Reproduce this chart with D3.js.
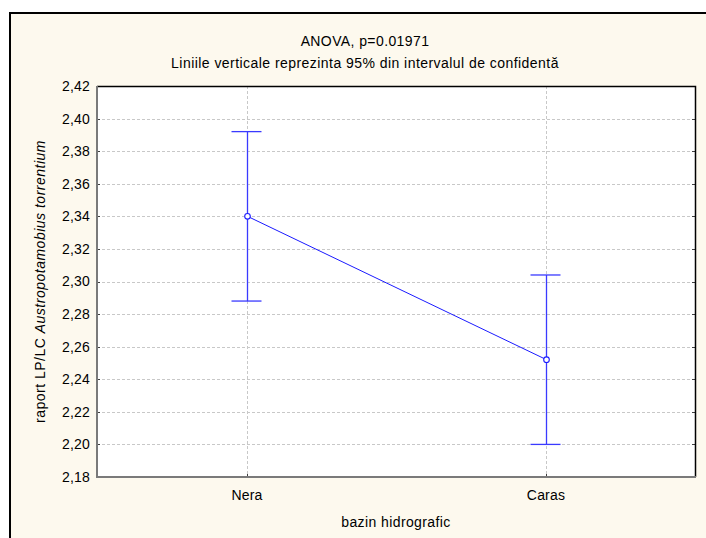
<!DOCTYPE html>
<html>
<head>
<meta charset="utf-8">
<script src="https://cdn.jsdelivr.net/npm/d3@7"></script>
<style>
  html, body { margin: 0; padding: 0; background: #ffffff; }
  svg { display: block; }
  text { font-family: Arial, "Liberation Sans", sans-serif; fill: #000; }
</style>
</head>
<body>
<svg id="chart" width="706" height="538"></svg>
<script>
// Group means and 95% confidence limits
const categories = ["Nera", "Caras"];
const means = [2.340, 2.252];
const lower = [2.288, 2.200];
const upper = [2.392, 2.304];
const yTicks = [2.18, 2.20, 2.22, 2.24, 2.26, 2.28, 2.30, 2.32, 2.34, 2.36, 2.38, 2.40, 2.42];

const titleText = "ANOVA, p=0.01971";
const subtitleText = "Liniile verticale reprezinta 95% din intervalul de confidentă";
const xLabel = "bazin hidrografic";

const svg = d3.select("#chart");
const W = 706, H = 538;
const plot = { left: 97, top: 86, right: 695, bottom: 477 };
const FONT = "Arial, 'Liberation Sans', sans-serif";

// panel background and outer frame
svg.append("rect").attr("x", 0).attr("y", 0).attr("width", W).attr("height", H).attr("fill", "#ffffff");
svg.append("rect").attr("x", 10).attr("y", 13).attr("width", W).attr("height", H)
  .attr("fill", "#fdf9ee");
svg.append("path").attr("d", `M10,${H} V13 H${W}`).attr("fill", "none")
  .attr("stroke", "#000").attr("stroke-width", 2);

// titles
svg.append("text").attr("x", 365).attr("y", 46).attr("text-anchor", "middle")
  .attr("font-size", 14).attr("letter-spacing", 0.4).text(titleText);
svg.append("text").attr("x", 365).attr("y", 68).attr("text-anchor", "middle")
  .attr("font-size", 14).attr("letter-spacing", 0.45).text(subtitleText);

const x = d3.scalePoint().domain(categories).range([plot.left, plot.right]).padding(0.5);
const y = d3.scaleLinear().domain([2.18, 2.42]).range([plot.bottom, plot.top]);

// plot area
svg.append("rect").attr("x", plot.left).attr("y", plot.top)
  .attr("width", plot.right - plot.left).attr("height", plot.bottom - plot.top)
  .attr("fill", "#ffffff");

// grid lines
const grid = svg.append("g").attr("stroke", "#c8c8c8").attr("stroke-width", 1)
  .attr("stroke-dasharray", "3,2");
grid.selectAll("line.h").data(yTicks.filter(d => d > 2.181 && d < 2.419)).join("line")
  .attr("x1", plot.left).attr("x2", plot.right)
  .attr("y1", d => Math.round(y(d)) + 0.5).attr("y2", d => Math.round(y(d)) + 0.5);
grid.selectAll("line.v").data(categories).join("line")
  .attr("y1", plot.top).attr("y2", plot.bottom)
  .attr("x1", d => Math.round(x(d)) + 0.5).attr("x2", d => Math.round(x(d)) + 0.5);

// y axis labels and inner ticks
const yAxis = d3.axisLeft(y).tickValues(yTicks).tickSize(0).tickPadding(7)
  .tickFormat(d => d3.format(".2f")(d).replace(".", ","));
const gy = svg.append("g").attr("transform", `translate(${plot.left},0)`).call(yAxis);
gy.select(".domain").remove();
gy.selectAll("text").attr("font-size", 14).attr("font-family", FONT).attr("letter-spacing", 0.2);

const tickG = svg.append("g").attr("stroke", "#404040").attr("stroke-width", 1);
tickG.selectAll("line.l").data(yTicks).join("line")
  .attr("x1", plot.left).attr("x2", plot.left + 3)
  .attr("y1", d => Math.round(y(d)) + 0.5).attr("y2", d => Math.round(y(d)) + 0.5);
tickG.selectAll("line.r").data(yTicks).join("line")
  .attr("x1", plot.right - 3).attr("x2", plot.right)
  .attr("y1", d => Math.round(y(d)) + 0.5).attr("y2", d => Math.round(y(d)) + 0.5);

// x axis labels and inner ticks
const xAxis = d3.axisBottom(x).tickSize(0).tickPadding(13);
const gx = svg.append("g").attr("transform", `translate(0,${plot.bottom})`).call(xAxis);
gx.select(".domain").remove();
gx.selectAll("text").attr("font-size", 14).attr("font-family", FONT).attr("letter-spacing", 0.2);
tickG.selectAll("line.b").data(categories).join("line")
  .attr("x1", d => Math.round(x(d)) + 0.5).attr("x2", d => Math.round(x(d)) + 0.5)
  .attr("y1", plot.bottom - 3).attr("y2", plot.bottom);

// plot border: dark top/right, grey bottom/left
svg.append("path").attr("d", `M${plot.left},${plot.top + 0.5} H${plot.right + 0.5} V${plot.bottom}`)
  .attr("fill", "none").attr("stroke", "#000").attr("stroke-width", 1.5);
svg.append("path").attr("d", `M${plot.left},${plot.top} V${plot.bottom} H${plot.right + 1}`)
  .attr("fill", "none").attr("stroke", "#7a7a7a").attr("stroke-width", 2);

// axis titles
svg.append("text").attr("x", (plot.left + plot.right) / 2).attr("y", 527)
  .attr("text-anchor", "middle").attr("font-size", 14).attr("letter-spacing", 0.4).text(xLabel);

const yl = svg.append("text").attr("text-anchor", "middle").attr("font-size", 14)
  .attr("letter-spacing", 0.5)
  .attr("transform", `translate(45,${(plot.top + plot.bottom) / 2}) rotate(-90)`);
yl.append("tspan").text("raport LP/LC ");
yl.append("tspan").attr("font-style", "italic").text("Austropotamobius torrentium");

// error bars
const data = categories.map((c, i) => ({ c, m: means[i], lo: lower[i], hi: upper[i] }));
const eb = svg.append("g").attr("stroke", "#3a3aff").attr("stroke-width", 1.3).attr("fill", "none");
eb.selectAll("line.stem").data(data).join("line")
  .attr("x1", d => Math.round(x(d.c)) + 0.5).attr("x2", d => Math.round(x(d.c)) + 0.5)
  .attr("y1", d => y(d.hi)).attr("y2", d => y(d.lo));
eb.selectAll("line.capT").data(data).join("line")
  .attr("x1", d => x(d.c) - 15).attr("x2", d => x(d.c) + 15)
  .attr("y1", d => y(d.hi)).attr("y2", d => y(d.hi));
eb.selectAll("line.capB").data(data).join("line")
  .attr("x1", d => x(d.c) - 15).attr("x2", d => x(d.c) + 15)
  .attr("y1", d => y(d.lo)).attr("y2", d => y(d.lo));

// mean line and markers
svg.append("path").datum(data)
  .attr("d", d3.line().x(d => Math.round(x(d.c)) + 0.5).y(d => y(d.m)))
  .attr("fill", "none").attr("stroke", "#1a1aff").attr("stroke-width", 1);
svg.selectAll("circle.mean").data(data).join("circle")
  .attr("cx", d => Math.round(x(d.c)) + 0.5).attr("cy", d => y(d.m)).attr("r", 2.8)
  .attr("fill", "#ffffff").attr("stroke", "#1a1aff").attr("stroke-width", 1.1);
</script>
</body>
</html>
